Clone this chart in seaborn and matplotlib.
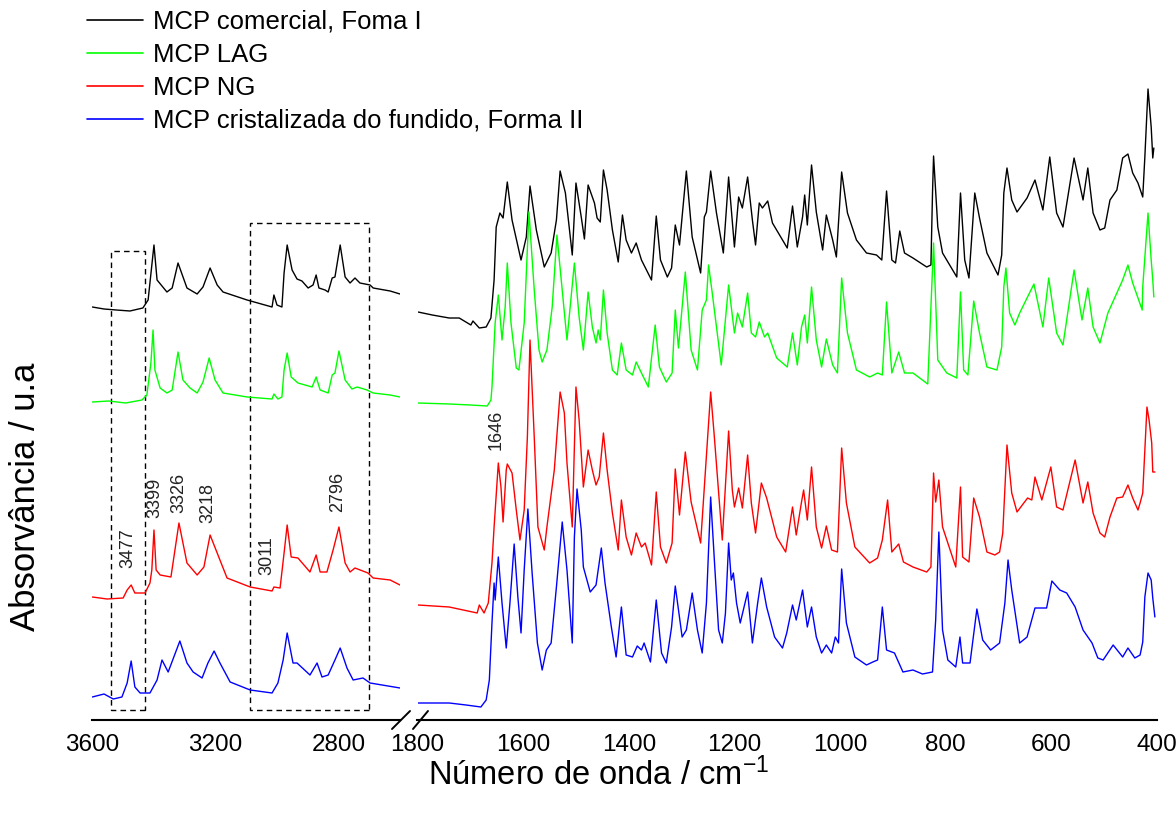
import pandas as pd
import matplotlib
matplotlib.use("Agg")
import matplotlib.pyplot as plt
import seaborn as sns
from matplotlib.patches import Rectangle
from matplotlib.lines import Line2D

# amostras e cores
nomes = ['MCP comercial, Foma I', 'MCP LAG', 'MCP NG',
         'MCP cristalizada do fundido, Forma II']
cores = ['#000000', '#00ff00', '#ff0000', '#0000ff']

# ---- faixa alta (3600 - 2600 cm-1) ----
comercial_alto_cm = [3598, 3560, 3520, 3476, 3434, 3417, 3398, 3388, 3356, 3339, 3320, 3291, 3258, 3239, 3216,
                     3193, 3174, 3096, 3015, 3009, 2999, 2983, 2976, 2966, 2950, 2934, 2918, 2898, 2882, 2872,
                     2863, 2843, 2833, 2820, 2811, 2794, 2778, 2762, 2746, 2730, 2697, 2687, 2632, 2600]
comercial_alto_abs = [4.13, 4.11, 4.10, 4.09, 4.12, 4.20, 4.75, 4.40, 4.28, 4.32, 4.57, 4.32, 4.26, 4.33, 4.52,
                      4.35, 4.28, 4.20, 4.13, 4.25, 4.15, 4.13, 4.47, 4.75, 4.50, 4.41, 4.39, 4.32, 4.35, 4.45,
                      4.32, 4.30, 4.28, 4.42, 4.43, 4.75, 4.43, 4.37, 4.42, 4.37, 4.35, 4.32, 4.29, 4.26]

lag_alto_cm = [3598, 3545, 3490, 3437, 3421, 3408, 3401, 3395, 3378, 3356, 3339, 3320, 3304, 3281, 3258,
               3239, 3219, 3200, 3174, 3096, 3015, 3009, 2996, 2983, 2976, 2966, 2953, 2931, 2908, 2885,
               2872, 2859, 2833, 2820, 2811, 2798, 2778, 2756, 2739, 2707, 2687, 2632, 2600]
lag_alto_abs = [3.18, 3.19, 3.17, 3.20, 3.25, 3.57, 3.90, 3.50, 3.32, 3.27, 3.30, 3.68, 3.40, 3.32, 3.27,
                3.38, 3.62, 3.40, 3.27, 3.23, 3.21, 3.26, 3.21, 3.23, 3.50, 3.67, 3.43, 3.37, 3.35, 3.33,
                3.43, 3.30, 3.27, 3.45, 3.47, 3.69, 3.40, 3.31, 3.33, 3.30, 3.27, 3.25, 3.23]

ng_alto_cm = [3598, 3550, 3498, 3485, 3472, 3460, 3427, 3411, 3405, 3398, 3391, 3378, 3343, 3330, 3317,
              3291, 3258, 3236, 3216, 3193, 3161, 3086, 3015, 3009, 2989, 2976, 2966, 2953, 2931, 2892,
              2872, 2859, 2837, 2817, 2798, 2778, 2762, 2746, 2704, 2687, 2632, 2600]
ng_alto_abs = [1.23, 1.21, 1.22, 1.30, 1.35, 1.27, 1.27, 1.37, 1.50, 1.90, 1.50, 1.45, 1.43, 1.70, 1.97,
               1.57, 1.45, 1.53, 1.85, 1.67, 1.42, 1.33, 1.29, 1.33, 1.32, 1.67, 1.95, 1.63, 1.62, 1.48,
               1.65, 1.48, 1.48, 1.70, 1.93, 1.57, 1.48, 1.52, 1.47, 1.42, 1.40, 1.35]

fundido_alto_cm = [3598, 3560, 3530, 3502, 3485, 3472, 3460, 3443, 3411, 3388, 3372, 3352, 3314, 3291, 3271,
                   3242, 3223, 3203, 3184, 3151, 3086, 3015, 2996, 2979, 2966, 2947, 2934, 2892, 2869, 2853,
                   2833, 2811, 2794, 2772, 2752, 2720, 2697, 2600]
fundido_alto_abs = [0.23, 0.26, 0.21, 0.23, 0.37, 0.59, 0.33, 0.27, 0.27, 0.40, 0.60, 0.48, 0.79, 0.57, 0.48,
                    0.42, 0.57, 0.69, 0.57, 0.38, 0.30, 0.27, 0.37, 0.60, 0.87, 0.57, 0.57, 0.45, 0.57, 0.43,
                    0.45, 0.60, 0.72, 0.52, 0.40, 0.42, 0.37, 0.32]

# ---- faixa baixa (1800 - 400 cm-1) ----
comercial_baixo_cm = [1799, 1772, 1740, 1721, 1699, 1695, 1683, 1670, 1661, 1655, 1651, 1644, 1638, 1630, 1621,
                      1604, 1594, 1587, 1575, 1560, 1547, 1537, 1530, 1520, 1507, 1500, 1490, 1484, 1477, 1465,
                      1460, 1454, 1448, 1441, 1431, 1420, 1412, 1405, 1395, 1386, 1376, 1357, 1348, 1340, 1327,
                      1319, 1312, 1304, 1291, 1280, 1264, 1257, 1253, 1245, 1234, 1221, 1211, 1200, 1192, 1185,
                      1175, 1166, 1160, 1153, 1147, 1137, 1128, 1100, 1090, 1081, 1071, 1067, 1062, 1054, 1045,
                      1033, 1026, 1014, 1007, 997, 986, 969, 950, 931, 921, 912, 902, 895, 887, 878,
                      862, 836, 828, 825, 823, 815, 806, 779, 772, 764, 756, 745, 736, 722, 701,
                      694, 690, 684, 675, 665, 646, 631, 616, 603, 590, 578, 557, 540, 531, 521,
                      508, 499, 489, 476, 465, 455, 446, 436, 427, 423, 417, 411, 408, 406]
comercial_baixo_abs = [4.08, 4.05, 4.02, 4.02, 3.95, 3.99, 3.92, 3.93, 4.02, 4.40, 4.93, 5.07, 5.02, 5.38, 5.00,
                       4.60, 4.83, 5.34, 4.90, 4.53, 4.67, 5.00, 5.49, 5.27, 4.65, 5.37, 5.03, 4.81, 5.35, 5.17,
                       5.02, 4.98, 5.50, 5.30, 4.90, 4.58, 5.05, 4.80, 4.67, 4.77, 4.60, 4.40, 5.04, 4.60, 4.43,
                       4.52, 4.95, 4.75, 5.49, 4.83, 4.47, 5.03, 5.08, 5.49, 5.07, 4.67, 5.43, 4.73, 5.23, 5.12,
                       5.43, 5.00, 4.75, 5.17, 5.12, 5.19, 4.97, 4.72, 5.14, 4.73, 5.03, 5.25, 4.95, 5.55, 5.08,
                       4.70, 5.05, 4.80, 4.63, 5.48, 5.07, 4.80, 4.67, 4.65, 4.60, 5.29, 4.60, 4.57, 4.89, 4.67,
                       4.62, 4.53, 4.55, 5.27, 5.64, 4.93, 4.67, 4.43, 5.27, 4.60, 4.42, 5.27, 5.02, 4.67, 4.45,
                       4.65, 5.27, 5.52, 5.20, 5.08, 5.22, 5.40, 5.10, 5.63, 5.07, 4.93, 5.62, 5.20, 5.52, 5.07,
                       4.90, 4.92, 5.20, 5.30, 5.62, 5.66, 5.47, 5.37, 5.23, 5.63, 6.31, 5.93, 5.62, 5.72]

lag_baixo_cm = [1799, 1740, 1700, 1668, 1661, 1659, 1653, 1647, 1640, 1634, 1630, 1623, 1613, 1608, 1598,
                1589, 1579, 1570, 1564, 1555, 1545, 1536, 1526, 1517, 1503, 1494, 1486, 1477, 1469, 1462,
                1458, 1454, 1448, 1441, 1431, 1422, 1414, 1405, 1393, 1386, 1376, 1363, 1350, 1342, 1329,
                1318, 1312, 1306, 1293, 1282, 1270, 1261, 1253, 1249, 1242, 1225, 1211, 1200, 1194, 1185,
                1175, 1168, 1160, 1153, 1143, 1137, 1120, 1100, 1090, 1081, 1073, 1067, 1062, 1054, 1045,
                1035, 1026, 1014, 1005, 997, 986, 969, 944, 929, 920, 912, 902, 889, 878, 862,
                834, 823, 815, 798, 779, 772, 766, 758, 747, 736, 722, 703, 694, 690, 686,
                679, 669, 660, 646, 633, 616, 605, 590, 578, 557, 542, 531, 521, 508, 493,
                476, 465, 455, 446, 428, 427, 417, 411, 408, 406]
lag_baixo_abs = [3.17, 3.16, 3.15, 3.14, 3.20, 3.33, 3.97, 4.25, 3.80, 4.13, 4.57, 3.97, 3.52, 3.50, 3.97,
                 5.08, 4.30, 3.70, 3.58, 3.70, 4.13, 4.85, 4.30, 3.80, 4.57, 4.03, 3.70, 4.28, 3.93, 3.77,
                 3.90, 3.80, 4.30, 3.87, 3.50, 3.45, 3.77, 3.50, 3.45, 3.58, 3.47, 3.33, 3.95, 3.53, 3.38,
                 3.47, 4.10, 3.72, 4.48, 3.70, 3.50, 4.10, 4.20, 4.55, 4.27, 3.55, 4.35, 3.87, 4.07, 3.93,
                 4.27, 3.87, 3.83, 3.98, 3.83, 3.87, 3.62, 3.53, 3.87, 3.55, 3.93, 4.05, 3.77, 4.33, 3.80,
                 3.53, 3.81, 3.55, 3.47, 4.42, 3.87, 3.50, 3.43, 3.47, 3.45, 4.18, 3.47, 3.68, 3.47, 3.47,
                 3.36, 4.77, 3.60, 3.47, 3.42, 4.28, 3.50, 3.45, 4.19, 3.87, 3.53, 3.50, 3.73, 4.33, 4.52,
                 4.07, 3.95, 4.07, 4.22, 4.36, 3.93, 4.42, 3.87, 3.75, 4.50, 4.00, 4.32, 3.93, 3.77, 4.07,
                 4.27, 4.40, 4.55, 4.37, 4.10, 4.33, 5.07, 4.60, 4.40, 4.23]

ng_baixo_cm = [1799, 1740, 1687, 1683, 1674, 1666, 1659, 1655, 1647, 1642, 1638, 1632, 1630, 1621, 1613,
               1606, 1598, 1592, 1587, 1579, 1572, 1560, 1555, 1541, 1530, 1522, 1517, 1507, 1500, 1494,
               1486, 1477, 1469, 1462, 1456, 1448, 1441, 1431, 1420, 1414, 1405, 1395, 1386, 1376, 1369,
               1357, 1348, 1340, 1329, 1318, 1312, 1304, 1293, 1282, 1264, 1257, 1245, 1238, 1223, 1211,
               1204, 1200, 1192, 1185, 1175, 1168, 1160, 1149, 1139, 1120, 1103, 1090, 1083, 1073, 1069,
               1062, 1054, 1045, 1035, 1026, 1016, 1005, 997, 988, 972, 944, 929, 920, 910, 902,
               889, 880, 862, 836, 828, 823, 819, 813, 806, 781, 772, 768, 756, 747, 736,
               722, 707, 698, 692, 684, 675, 665, 645, 637, 631, 618, 601, 590, 578, 555,
               540, 531, 521, 508, 499, 489, 476, 465, 455, 446, 436, 432, 427, 419, 415,
               410, 408, 404]
ng_baixo_abs = [1.15, 1.13, 1.07, 1.15, 1.07, 1.17, 1.57, 1.93, 2.57, 2.33, 1.98, 2.50, 2.56, 2.47, 2.10,
                1.80, 2.10, 2.83, 3.80, 2.83, 1.93, 1.70, 1.93, 2.50, 3.28, 3.07, 2.57, 1.93, 3.33, 3.00,
                2.33, 2.70, 2.50, 2.35, 2.43, 2.87, 2.50, 2.07, 1.70, 2.20, 1.83, 1.65, 1.87, 1.73, 1.77,
                1.55, 2.28, 1.73, 1.57, 1.77, 2.51, 2.05, 2.68, 2.18, 1.77, 2.33, 3.28, 2.83, 1.80, 2.89,
                2.30, 2.13, 2.32, 2.12, 2.65, 2.17, 1.87, 2.37, 2.22, 1.83, 1.68, 2.13, 1.85, 2.18, 2.30,
                2.00, 2.53, 1.93, 1.72, 1.94, 1.70, 1.68, 2.72, 2.17, 1.73, 1.57, 1.62, 1.80, 2.20, 1.68,
                1.76, 1.58, 1.53, 1.48, 1.53, 2.47, 2.18, 2.40, 1.93, 1.53, 2.33, 1.63, 1.58, 2.22, 2.03,
                1.68, 1.65, 1.68, 1.87, 2.75, 2.27, 2.08, 2.22, 2.20, 2.43, 2.20, 2.53, 2.13, 2.10, 2.60,
                2.17, 2.38, 2.07, 1.87, 1.83, 2.03, 2.22, 2.23, 2.35, 2.22, 2.10, 2.17, 2.27, 3.13, 3.00,
                2.77, 2.48, 2.48]

fundido_baixo_cm = [1799, 1740, 1708, 1680, 1670, 1664, 1659, 1655, 1653, 1647, 1640, 1632, 1625, 1617, 1610,
                    1604, 1598, 1591, 1583, 1573, 1564, 1556, 1547, 1537, 1526, 1517, 1507, 1503, 1498, 1490,
                    1486, 1473, 1462, 1452, 1445, 1433, 1424, 1414, 1405, 1393, 1384, 1376, 1371, 1359, 1348,
                    1338, 1329, 1319, 1312, 1299, 1291, 1280, 1270, 1261, 1253, 1245, 1238, 1230, 1223, 1217,
                    1211, 1206, 1202, 1196, 1189, 1175, 1166, 1156, 1149, 1139, 1124, 1109, 1101, 1090, 1083,
                    1071, 1062, 1054, 1045, 1035, 1026, 1016, 1009, 1003, 997, 988, 972, 950, 938, 929,
                    920, 912, 897, 881, 862, 844, 825, 819, 813, 806, 796, 781, 773, 768, 754,
                    741, 730, 715, 698, 688, 682, 675, 660, 646, 631, 609, 599, 584, 571, 555,
                    540, 523, 512, 502, 483, 465, 455, 442, 432, 427, 423, 417, 411, 408, 404]
fundido_baixo_abs = [0.17, 0.17, 0.15, 0.13, 0.20, 0.40, 0.97, 1.37, 1.20, 1.63, 1.17, 0.72, 1.17, 1.76, 1.23,
                     0.87, 1.50, 2.11, 1.47, 0.77, 0.50, 0.70, 0.77, 1.33, 1.98, 1.50, 0.77, 1.83, 2.31, 1.90,
                     1.53, 1.28, 1.35, 1.72, 1.37, 0.93, 0.63, 1.13, 0.65, 0.63, 0.74, 0.70, 0.77, 0.58, 1.20,
                     0.67, 0.57, 0.93, 1.34, 0.83, 0.90, 1.27, 0.90, 0.67, 1.17, 2.23, 1.60, 0.90, 0.77, 1.07,
                     1.77, 1.40, 1.47, 1.17, 0.97, 1.28, 0.77, 1.17, 1.42, 1.13, 0.83, 0.72, 0.87, 1.15, 1.00,
                     1.30, 0.93, 1.13, 0.83, 0.67, 0.75, 0.67, 0.83, 0.77, 1.51, 0.97, 0.63, 0.55, 0.58, 0.60,
                     1.13, 0.70, 0.67, 0.48, 0.50, 0.46, 0.48, 1.00, 1.88, 0.90, 0.60, 0.53, 0.83, 0.57, 0.57,
                     1.11, 0.80, 0.70, 0.77, 1.17, 1.60, 1.30, 0.77, 0.83, 1.12, 1.12, 1.39, 1.30, 1.27, 1.13,
                     0.90, 0.77, 0.62, 0.60, 0.75, 0.63, 0.72, 0.62, 0.65, 0.78, 1.23, 1.47, 1.40, 1.22, 1.03]

# picos marcados
picos = ['3477', '3399', '3326', '3218', '3011', '2796']
picos_x = [3482, 3395, 3317, 3223, 3031, 2801]
picos_y = [1.52, 2.02, 2.07, 1.97, 1.45, 2.08]
pico_baixo, pico_baixo_x, pico_baixo_y = '1646', 1651, 2.70

# regioes destacadas (cm-1 ini, cm-1 fim, y0, y1)
caixas = [(3537, 3427, 0.10, 4.69), (3086, 2700, 0.10, 4.97)]

series = [
    (nomes[0], 'alto', comercial_alto_cm, comercial_alto_abs),
    (nomes[1], 'alto', lag_alto_cm, lag_alto_abs),
    (nomes[2], 'alto', ng_alto_cm, ng_alto_abs),
    (nomes[3], 'alto', fundido_alto_cm, fundido_alto_abs),
    (nomes[0], 'baixo', comercial_baixo_cm, comercial_baixo_abs),
    (nomes[1], 'baixo', lag_baixo_cm, lag_baixo_abs),
    (nomes[2], 'baixo', ng_baixo_cm, ng_baixo_abs),
    (nomes[3], 'baixo', fundido_baixo_cm, fundido_baixo_abs),
]
df = pd.concat([pd.DataFrame({'cm': c, 'abs': a, 'amostra': n, 'faixa': f})
                for n, f, c, a in series], ignore_index=True)

sns.set_style('white')
plt.rcParams['font.family'] = ['Liberation Sans', 'DejaVu Sans']
plt.rcParams['mathtext.default'] = 'regular'
plt.rcParams['text.color'] = 'black'
plt.rcParams['axes.labelcolor'] = 'black'

W, H = 1176, 818
fig = plt.figure(figsize=(W / 100, H / 100), dpi=100)
ax1 = fig.add_axes([91.7 / W, 98 / H, (400 - 91.7) / W, 640 / H])
ax2 = fig.add_axes([417.5 / W, 98 / H, (1157 - 417.5) / W, 640 / H])

paleta = dict(zip(nomes, cores))
for ax, faixa in ((ax1, 'alto'), (ax2, 'baixo')):
    sns.lineplot(data=df[df.faixa == faixa], x='cm', y='abs', hue='amostra', hue_order=nomes,
                 palette=paleta, estimator=None, sort=False, lw=1.0, ax=ax, legend=(faixa == 'baixo'))
    ax.set_ylim(0, 6.4)
    ax.set_yticks([])
    ax.set_xlabel('')
    ax.set_ylabel('')
    for s in ('left', 'right', 'top'):
        ax.spines[s].set_visible(False)
    ax.spines['bottom'].set_linewidth(1.5)
    ax.spines['bottom'].set_color('black')
    ax.tick_params(axis='x', which='major', direction='out', length=7, width=1.4,
                   labelsize=17.5, pad=3, colors='black')
    ax.tick_params(axis='x', which='minor', direction='out', length=4, width=1.4, colors='black')
    ax.patch.set_alpha(0)

ax1.set_xlim(3600, 2600)
ax1.set_xticks([3600, 3200, 2800])
ax1.set_xticks([3400, 3000], minor=True)
ax2.set_xlim(1800, 400)
ax2.set_xticks(list(range(1800, 399, -200)))
ax2.set_xticks(list(range(1700, 400, -200)), minor=True)

for x0, x1, y0, y1 in caixas:
    ax1.add_patch(Rectangle((x1, y0), x0 - x1, y1 - y0, fill=False, ec='black',
                            lw=1, ls=(0, (4, 3)), clip_on=False))

for t, x, y in zip(picos, picos_x, picos_y):
    ax1.text(x, y, t, rotation=90, ha='center', va='bottom', fontsize=13, color='#222222')
ax2.text(pico_baixo_x, pico_baixo_y, pico_baixo, rotation=90, ha='center', va='bottom',
         fontsize=13, color='#222222')

# marcas de quebra do eixo
for xa, xb in ((392, 410), (413, 428)):
    fig.add_artist(Line2D([xa / W, xb / W], [1 - 729 / H, 1 - 711 / H], color='black', lw=1.4))

leg = ax2.get_legend()
handles = leg.legend_handles
labels = [t.get_text() for t in leg.get_texts()]
leg.remove()
for h in handles:
    h.set_linewidth(1.2)
fig.legend(handles, labels, loc='upper left', bbox_to_anchor=(87 / W, 1 - 10 / H), frameon=False,
           fontsize=18.5, handlelength=2.18, handletextpad=0.39, labelspacing=0.35,
           borderpad=0, borderaxespad=0, labelcolor='black')

fig.text(26 / W, 1 - 497 / H, 'Absorvância / u.a', rotation=90, ha='center', va='center',
         fontsize=25, color='black')
fig.text(598 / W, 1 - 775 / H, 'Número de onda / cm$^{-1}$', ha='center', va='center',
         fontsize=23.5, color='black')

fig.savefig('out.png', dpi=100)
